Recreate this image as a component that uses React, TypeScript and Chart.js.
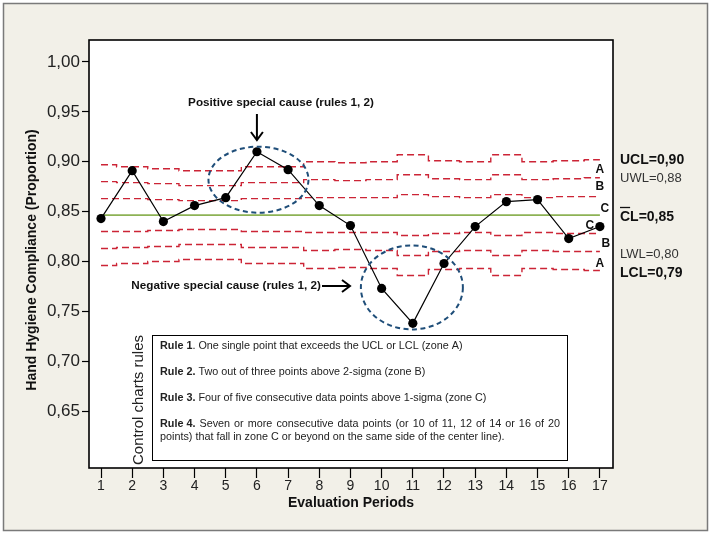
import React, { useEffect, useRef } from 'react';
import { Chart, registerables } from 'chart.js';

Chart.register(...registerables);

// ---- Data ----
const periods = [1, 2, 3, 4, 5, 6, 7, 8, 9, 10, 11, 12, 13, 14, 15, 16, 17];
const compliance = [0.843, 0.891, 0.840, 0.856, 0.864, 0.910, 0.892, 0.856, 0.836, 0.773, 0.738, 0.798, 0.835, 0.860, 0.862, 0.823, 0.835];
const centerLine = [0.8465, 0.8465, 0.8465, 0.8465, 0.8465, 0.8465, 0.8465, 0.8465, 0.8465, 0.8465, 0.8465, 0.8465, 0.8465, 0.8465, 0.8465, 0.8465, 0.8465];
const ucl = [0.897, 0.895, 0.893, 0.891, 0.891, 0.895, 0.895, 0.900, 0.899, 0.900, 0.907, 0.901, 0.900, 0.907, 0.900, 0.901, 0.902];
const uwl = [0.880, 0.879, 0.878, 0.876, 0.876, 0.879, 0.879, 0.882, 0.881, 0.882, 0.887, 0.883, 0.882, 0.887, 0.882, 0.883, 0.884];
const upper1Sigma = [0.863, 0.863, 0.862, 0.861, 0.861, 0.863, 0.863, 0.864, 0.864, 0.864, 0.867, 0.865, 0.864, 0.867, 0.864, 0.865, 0.865];
const lower1Sigma = [0.830, 0.830, 0.831, 0.832, 0.832, 0.830, 0.830, 0.829, 0.829, 0.829, 0.826, 0.828, 0.829, 0.826, 0.829, 0.828, 0.828];
const lwl = [0.813, 0.814, 0.815, 0.817, 0.817, 0.814, 0.814, 0.811, 0.812, 0.811, 0.806, 0.810, 0.811, 0.806, 0.811, 0.810, 0.810];
const lcl = [0.796, 0.798, 0.800, 0.802, 0.802, 0.798, 0.798, 0.793, 0.794, 0.793, 0.786, 0.792, 0.793, 0.786, 0.793, 0.792, 0.791];
const yTicks = [0.65, 0.70, 0.75, 0.80, 0.85, 0.90, 0.95, 1.00];

const yTitle = 'Hand Hygiene Compliance (Proportion)';
const xTitle = 'Evaluation Periods';
const positiveLabel = 'Positive special cause (rules 1, 2)';
const negativeLabel = 'Negative special cause (rules 1, 2)';
const rulesTitle = 'Control charts rules';
const rules = [
  { bold: 'Rule 1', text: '. One single point that exceeds the UCL or LCL (zone A)' },
  { bold: 'Rule 2.', text: ' Two out of three points above 2-sigma (zone B)' },
  { bold: 'Rule 3.', text: ' Four of five consecutive data points above 1-sigma (zone C)' },
  { bold: 'Rule 4.', text: ' Seven or more consecutive data points (or 10 of 11, 12 of 14 or 16 of 20' },
  { bold: '', text: 'points) that fall in zone C or beyond on the same side of the center line).' },
];
const limitLabels = ['UCL=0,90', 'UWL=0,88', 'CL=0,85', 'LWL=0,80', 'LCL=0,79'];

const FONT = '"Liberation Sans", Arial, Helvetica, sans-serif';

function pts(vals: number[]) {
  return periods.map((p, i) => ({ x: p, y: vals[i] }));
}

function drawRuleLine(ctx: CanvasRenderingContext2D, x: number, y: number, bold: string, rest: string, size: number, justify?: number) {
  ctx.font = `bold ${size}px ${FONT}`;
  let cx = x;
  if (bold) {
    ctx.fillText(bold, x, y);
    cx += ctx.measureText(bold).width;
  }
  ctx.font = `${size}px ${FONT}`;
  if (!justify) {
    ctx.fillText(rest, cx, y);
    return;
  }
  const words = rest.trim().split(' ');
  const wordsW = words.reduce((s, w) => s + ctx.measureText(w).width, 0);
  const gap = (x + justify - cx - wordsW) / words.length;
  for (const w of words) {
    cx += gap;
    ctx.fillText(w, cx, y);
    cx += ctx.measureText(w).width;
  }
}

function arrowHead(ctx: CanvasRenderingContext2D, x: number, y: number, dir: 'down' | 'right', s: number) {
  ctx.beginPath();
  if (dir === 'down') {
    ctx.moveTo(x - s * 0.75, y - s);
    ctx.lineTo(x, y);
    ctx.lineTo(x + s * 0.75, y - s);
  } else {
    ctx.moveTo(x - s, y - s * 0.75);
    ctx.lineTo(x, y);
    ctx.lineTo(x - s, y + s * 0.75);
  }
  ctx.stroke();
}

const decorPlugin = {
  id: 'decor',
  beforeDraw(chart: any) {
    const { ctx, chartArea: a, width, height } = chart;
    ctx.save();
    ctx.fillStyle = '#ffffff';
    ctx.fillRect(0, 0, width, height);
    ctx.fillStyle = '#F2F0E8';
    ctx.fillRect(3, 3, 705, 528);
    ctx.strokeStyle = '#7a7a7a';
    ctx.lineWidth = 1.5;
    ctx.strokeRect(3.5, 3.5, 704, 527);
    ctx.fillStyle = '#ffffff';
    ctx.fillRect(a.left, a.top, a.right - a.left, a.bottom - a.top);
    ctx.restore();
  },
  afterDatasetsDraw(chart: any) {
    const { ctx } = chart;
    const xs = chart.scales.x;
    const ys = chart.scales.y;
    ctx.save();

    // dashed ellipses
    ctx.strokeStyle = '#1F4E79';
    ctx.lineWidth = 2;
    ctx.setLineDash([5, 3.5]);
    ctx.beginPath();
    ctx.ellipse(xs.getPixelForValue(6.05), ys.getPixelForValue(0.882), 50, 33, 0, 0, Math.PI * 2);
    ctx.stroke();
    ctx.beginPath();
    ctx.ellipse(xs.getPixelForValue(10.97), ys.getPixelForValue(0.774), 51, 42, 0, 0, Math.PI * 2);
    ctx.stroke();
    ctx.setLineDash([]);

    // annotations
    ctx.fillStyle = '#111';
    ctx.textBaseline = 'middle';
    ctx.font = `bold 11.7px ${FONT}`;
    ctx.textAlign = 'center';
    ctx.fillText(positiveLabel, 281, 103);
    ctx.textAlign = 'right';
    ctx.fillText(negativeLabel, 321, 286);

    ctx.strokeStyle = '#000';
    ctx.lineWidth = 2;
    const ax = xs.getPixelForValue(6);
    ctx.beginPath();
    ctx.moveTo(ax, 114);
    ctx.lineTo(ax, 140);
    ctx.stroke();
    arrowHead(ctx, ax, 140, 'down', 8);
    ctx.beginPath();
    ctx.moveTo(322, 286);
    ctx.lineTo(350, 286);
    ctx.stroke();
    arrowHead(ctx, 350, 286, 'right', 8);

    // zone letters
    const x17 = xs.getPixelForValue(17);
    ctx.font = `bold 12px ${FONT}`;
    ctx.textAlign = 'center';
    ctx.fillStyle = '#111';
    ctx.fillText('A', x17, 170);
    ctx.fillText('B', x17, 187);
    ctx.fillText('C', x17 + 5, 209);
    ctx.fillText('C', x17 - 10, 226);
    ctx.fillText('B', x17 + 6, 244);
    ctx.fillText('A', x17, 264);

    // rules box
    ctx.fillStyle = '#fff';
    ctx.fillRect(152, 335, 416, 126);
    ctx.strokeStyle = '#000';
    ctx.lineWidth = 1;
    ctx.strokeRect(152.5, 335.5, 415, 125);
    ctx.fillStyle = '#222';
    ctx.textAlign = 'left';
    const rx = 160;
    const ry = [346, 372, 398, 424, 437];
    rules.forEach((r, i) => {
      drawRuleLine(ctx, rx, ry[i], r.bold, r.text, 10.8, i === 3 ? 400 : undefined);
    });

    ctx.save();
    ctx.translate(139, 400);
    ctx.rotate(-Math.PI / 2);
    ctx.textAlign = 'center';
    ctx.font = `15px ${FONT}`;
    ctx.fillStyle = '#222';
    ctx.fillText(rulesTitle, 0, 0);
    ctx.restore();

    ctx.restore();
  },
  afterDraw(chart: any) {
    const { ctx, chartArea: a } = chart;
    ctx.save();
    // plot border
    ctx.strokeStyle = '#000';
    ctx.lineWidth = 1.6;
    ctx.strokeRect(a.left, a.top, a.right - a.left, a.bottom - a.top);

    // axis titles
    ctx.fillStyle = '#111';
    ctx.textBaseline = 'middle';
    ctx.textAlign = 'center';
    ctx.font = `bold 14px ${FONT}`;
    ctx.fillText(xTitle, (a.left + a.right) / 2, 503);
    ctx.save();
    ctx.translate(32, 260);
    ctx.rotate(-Math.PI / 2);
    ctx.font = `bold 14px ${FONT}`;
    ctx.fillText(yTitle, 0, 0);
    ctx.restore();

    // right-side limit labels
    ctx.textAlign = 'left';
    const lx = 620;
    ctx.font = `bold 14px ${FONT}`;
    ctx.fillText(limitLabels[0], lx, 160);
    ctx.font = `13px ${FONT}`;
    ctx.fillStyle = '#333';
    ctx.fillText(limitLabels[1], lx, 178);
    ctx.fillStyle = '#111';
    ctx.font = `bold 14px ${FONT}`;
    ctx.fillText(limitLabels[2], lx, 217);
    const cw = ctx.measureText('C').width;
    ctx.strokeStyle = '#111';
    ctx.lineWidth = 1.3;
    ctx.beginPath();
    ctx.moveTo(lx, 207.5);
    ctx.lineTo(lx + cw, 207.5);
    ctx.stroke();
    ctx.font = `13px ${FONT}`;
    ctx.fillStyle = '#333';
    ctx.fillText(limitLabels[3], lx, 254);
    ctx.fillStyle = '#111';
    ctx.font = `bold 14px ${FONT}`;
    ctx.fillText(limitLabels[4], lx, 273);
    ctx.restore();
  },
};

export default function App() {
  const ref = useRef<HTMLCanvasElement | null>(null);

  useEffect(() => {
    if (!ref.current) return;
    const limitStyle = {
      borderColor: '#CC2436',
      borderWidth: 1.4,
      borderDash: [7, 4],
      pointRadius: 0,
      stepped: 'middle' as const,
      fill: false,
      order: 2,
    };
    const chart = new Chart(ref.current, {
      type: 'line',
      data: {
        datasets: [
          {
            label: 'Compliance',
            data: pts(compliance),
            borderColor: '#000',
            borderWidth: 1.2,
            pointRadius: 4.6,
            pointBackgroundColor: '#000',
            pointBorderColor: '#000',
            pointBorderWidth: 0,
            order: 0,
          },
          {
            label: 'CL',
            data: pts(centerLine),
            borderColor: '#8DB255',
            borderWidth: 1.6,
            pointRadius: 0,
            order: 1,
          },
          { label: 'UCL', data: pts(ucl), ...limitStyle },
          { label: 'UWL', data: pts(uwl), ...limitStyle },
          { label: '+1 sigma', data: pts(upper1Sigma), ...limitStyle },
          { label: '-1 sigma', data: pts(lower1Sigma), ...limitStyle },
          { label: 'LWL', data: pts(lwl), ...limitStyle },
          { label: 'LCL', data: pts(lcl), ...limitStyle },
        ] as any,
      },
      options: {
        animation: false,
        responsive: false,
        devicePixelRatio: 1,
        layout: { padding: { left: 0, top: 40, right: 100, bottom: 0 } },
        plugins: { legend: { display: false }, tooltip: { enabled: false } },
        scales: {
          x: {
            type: 'linear',
            min: 0.615,
            max: 17.42,
            afterBuildTicks: (s: any) => {
              s.ticks = periods.map((v) => ({ value: v }));
            },
            afterFit: (s: any) => {
              s.height = 68;
            },
            ticks: {
              callback: (v: any) => String(v),
              font: { family: FONT, size: 14 },
              color: '#222',
              padding: 0,
              maxRotation: 0,
              autoSkip: false,
            },
            grid: { drawOnChartArea: false, drawTicks: true, tickLength: 10, tickColor: '#000', tickWidth: 1.2 },
            border: { display: false },
          },
          y: {
            type: 'linear',
            min: 0.593,
            max: 1.022,
            afterBuildTicks: (s: any) => {
              s.ticks = yTicks.map((v) => ({ value: v }));
            },
            afterFit: (s: any) => {
              s.width = 89;
            },
            ticks: {
              callback: (v: any) => Number(v).toFixed(2).replace('.', ','),
              font: { family: FONT, size: 17 },
              color: '#222',
              padding: 2,
              autoSkip: false,
            },
            grid: { drawOnChartArea: false, drawTicks: true, tickLength: 7, tickColor: '#000', tickWidth: 1.2 },
            border: { display: false },
          },
        },
      },
      plugins: [decorPlugin],
    });
    return () => chart.destroy();
  }, []);

  return (
    <div style={{ position: 'fixed', left: 0, top: 0, width: 713, height: 536 }}>
      <canvas ref={ref} width={713} height={536} style={{ display: 'block', width: 713, height: 536 }} />
    </div>
  );
}
